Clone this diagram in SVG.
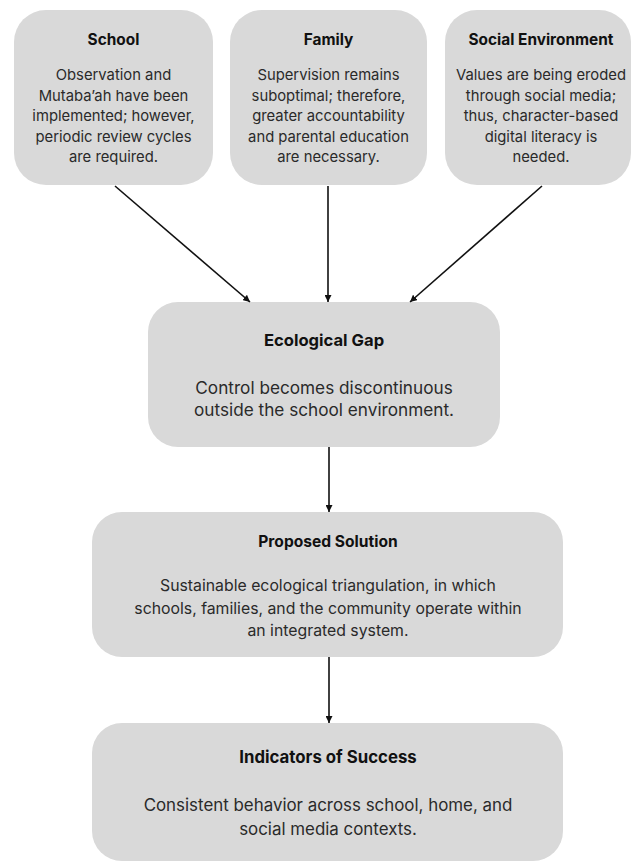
<svg xmlns="http://www.w3.org/2000/svg" width="632" height="863" viewBox="0 0 632 863">
<defs>
<marker id="ah" viewBox="0 0 10 10" refX="10" refY="5" markerWidth="7" markerHeight="7" markerUnits="userSpaceOnUse" orient="auto">
<path d="M0,0 L10,5 L0,10 z" fill="#111"/>
</marker>
<style>
.box{fill:#d9d9d9;}
.t{font-family:Inter,"Open Sans",sans-serif;font-weight:700;fill:#111;text-anchor:middle;}
.b{font-family:Inter,"Open Sans",sans-serif;font-weight:400;fill:#2a2a2a;text-anchor:middle;}
.c{stroke:#111;stroke-width:1.6;fill:none;marker-end:url(#ah);}
</style>
</defs>
<rect width="632" height="863" fill="#fff"/>
<g id="school">
<rect class="box" x="14" y="10" width="199" height="175" rx="32"/>
<text class="t" font-size="15.4" x="113.5" y="45">School</text>
<text class="b" font-size="14.8" x="113.5" y="80">Observation and</text>
<text class="b" font-size="14.8" x="113.5" y="101">Mutaba’ah have been</text>
<text class="b" font-size="14.8" x="113.5" y="121">implemented; however,</text>
<text class="b" font-size="14.8" x="113.5" y="142">periodic review cycles</text>
<text class="b" font-size="14.8" x="113.5" y="162">are required.</text>
</g>
<g id="family">
<rect class="box" x="230" y="10" width="197" height="175" rx="32"/>
<text class="t" font-size="15.4" x="328.5" y="45">Family</text>
<text class="b" font-size="14.8" x="328.5" y="80">Supervision remains</text>
<text class="b" font-size="14.8" x="328.5" y="101">suboptimal; therefore,</text>
<text class="b" font-size="14.8" x="328.5" y="121">greater accountability</text>
<text class="b" font-size="14.8" x="328.5" y="142">and parental education</text>
<text class="b" font-size="14.8" x="328.5" y="162">are necessary.</text>
</g>
<g id="social">
<rect class="box" x="445" y="10" width="186" height="175" rx="32"/>
<text class="t" font-size="15.4" x="541" y="45">Social Environment</text>
<text class="b" font-size="14.8" x="541" y="80">Values are being eroded</text>
<text class="b" font-size="14.8" x="541" y="101">through social media;</text>
<text class="b" font-size="14.8" x="541" y="121">thus, character-based</text>
<text class="b" font-size="14.8" x="541" y="142">digital literacy is</text>
<text class="b" font-size="14.8" x="541" y="162">needed.</text>
</g>
<g id="gap">
<rect class="box" x="148" y="302" width="352" height="145" rx="30"/>
<text class="t" font-size="16.6" x="324" y="346">Ecological Gap</text>
<text class="b" font-size="17.2" x="324" y="394">Control becomes discontinuous</text>
<text class="b" font-size="17.2" x="324" y="416">outside the school environment.</text>
</g>
<g id="solution">
<rect class="box" x="92" y="512" width="471" height="145" rx="30"/>
<text class="t" font-size="15.6" x="328" y="547">Proposed Solution</text>
<text class="b" font-size="15.8" x="328" y="591">Sustainable ecological triangulation, in which</text>
<text class="b" font-size="15.8" x="328" y="614">schools, families, and the community operate within</text>
<text class="b" font-size="15.8" x="328" y="636">an integrated system.</text>
</g>
<g id="indicators">
<rect class="box" x="92" y="723" width="471" height="138" rx="30"/>
<text class="t" font-size="16.8" x="328" y="763">Indicators of Success</text>
<text class="b" font-size="16.9" x="328" y="811">Consistent behavior across school, home, and</text>
<text class="b" font-size="16.9" x="328" y="835">social media contexts.</text>
</g>
<g id="connectors">
<line class="c" x1="115" y1="186" x2="250" y2="302"/>
<line class="c" x1="328" y1="186" x2="328" y2="302"/>
<line class="c" x1="542" y1="186" x2="410" y2="302"/>
<line class="c" x1="329" y1="447" x2="329" y2="512"/>
<line class="c" x1="329" y1="657" x2="329" y2="723"/>
</g>
</svg>
